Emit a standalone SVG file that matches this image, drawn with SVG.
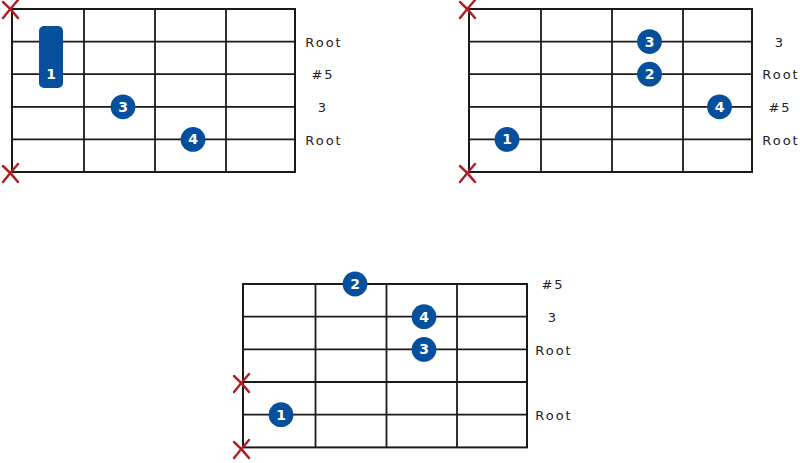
<svg xmlns="http://www.w3.org/2000/svg" xmlns:xlink="http://www.w3.org/1999/xlink" width="800" height="463" viewBox="0 0 800 463">
<defs>
<style>
.grid{fill:none;stroke:#1a1a1a;stroke-width:2}
.ln{stroke:#1a1a1a;stroke-width:1.8}
.dot{fill:#064f9c}
.fn{fill:#ffffff;font-family:"DejaVu Sans",sans-serif;font-size:14px;font-weight:600;text-anchor:middle}
.lb{fill:#222;font-family:"DejaVu Sans",sans-serif;font-size:13px;letter-spacing:2px;text-anchor:middle}
.xm{fill:none;stroke:#b11d24;stroke-width:2.4;stroke-linecap:round}
</style>
<g id="xmark">
<path class="xm" d="M-10,-7 Q-2,0 5,9"/>
<path class="xm" d="M5,-9 Q-2,-1 -10,9"/>
</g>
</defs>

<g id="chord1">
<rect class="grid" x="12" y="9" width="283" height="163"/>
<g class="ln">
<line x1="84" y1="9" x2="84" y2="172"/>
<line x1="155" y1="9" x2="155" y2="172"/>
<line x1="226" y1="9" x2="226" y2="172"/>
<line x1="12" y1="41.6" x2="295" y2="41.6"/>
<line x1="12" y1="74.2" x2="295" y2="74.2"/>
<line x1="12" y1="106.8" x2="295" y2="106.8"/>
<line x1="12" y1="139.4" x2="295" y2="139.4"/>
</g>
<use xlink:href="#xmark" x="13" y="9"/>
<use xlink:href="#xmark" x="13" y="173"/>
<rect class="dot" x="39" y="26" width="24" height="62" rx="5"/>
<text class="fn" x="51" y="79">1</text>
<circle class="dot" cx="123" cy="106.8" r="12.4"/>
<text class="fn" x="123" y="111.8">3</text>
<circle class="dot" cx="193" cy="139.4" r="12.4"/>
<text class="fn" x="193" y="144.4">4</text>
<text class="lb" x="324" y="46.5">Root</text>
<text class="lb" x="323" y="79">#5</text>
<text class="lb" x="323" y="111.5">3</text>
<text class="lb" x="324" y="144.5">Root</text>
</g>

<g id="chord2">
<rect class="grid" x="469" y="9" width="283" height="163"/>
<g class="ln">
<line x1="541" y1="9" x2="541" y2="172"/>
<line x1="612" y1="9" x2="612" y2="172"/>
<line x1="683" y1="9" x2="683" y2="172"/>
<line x1="469" y1="41.6" x2="752" y2="41.6"/>
<line x1="469" y1="74.2" x2="752" y2="74.2"/>
<line x1="469" y1="106.8" x2="752" y2="106.8"/>
<line x1="469" y1="139.4" x2="752" y2="139.4"/>
</g>
<use xlink:href="#xmark" x="470" y="9"/>
<use xlink:href="#xmark" x="470" y="173"/>
<circle class="dot" cx="649.5" cy="41.6" r="12.4"/>
<text class="fn" x="649.5" y="46.6">3</text>
<circle class="dot" cx="649.5" cy="74.2" r="12.4"/>
<text class="fn" x="649.5" y="79.2">2</text>
<circle class="dot" cx="719.5" cy="106.8" r="12.4"/>
<text class="fn" x="719.5" y="111.8">4</text>
<circle class="dot" cx="507" cy="139.4" r="12.4"/>
<text class="fn" x="507" y="144.4">1</text>
<text class="lb" x="780" y="46.5">3</text>
<text class="lb" x="781" y="79">Root</text>
<text class="lb" x="780" y="111.5">#5</text>
<text class="lb" x="781" y="144.5">Root</text>
</g>

<g id="chord3">
<rect class="grid" x="243" y="284" width="284" height="163.4"/>
<g class="ln">
<line x1="315.5" y1="284" x2="315.5" y2="447.4"/>
<line x1="386.5" y1="284" x2="386.5" y2="447.4"/>
<line x1="457" y1="284" x2="457" y2="447.4"/>
<line x1="243" y1="316.7" x2="527" y2="316.7"/>
<line x1="243" y1="349.4" x2="527" y2="349.4"/>
<line x1="243" y1="382" x2="527" y2="382"/>
<line x1="243" y1="414.7" x2="527" y2="414.7"/>
</g>
<use xlink:href="#xmark" x="244" y="383"/>
<use xlink:href="#xmark" x="244" y="449"/>
<circle class="dot" cx="355" cy="284" r="12.4"/>
<text class="fn" x="355" y="289">2</text>
<circle class="dot" cx="424" cy="316.7" r="12.4"/>
<text class="fn" x="424" y="321.7">4</text>
<circle class="dot" cx="424" cy="349.4" r="12.4"/>
<text class="fn" x="424" y="354.4">3</text>
<circle class="dot" cx="281" cy="414.7" r="12.4"/>
<text class="fn" x="281" y="419.7">1</text>
<text class="lb" x="553" y="289">#5</text>
<text class="lb" x="553" y="321.5">3</text>
<text class="lb" x="554" y="354.5">Root</text>
<text class="lb" x="554" y="419.5">Root</text>
</g>
</svg>
